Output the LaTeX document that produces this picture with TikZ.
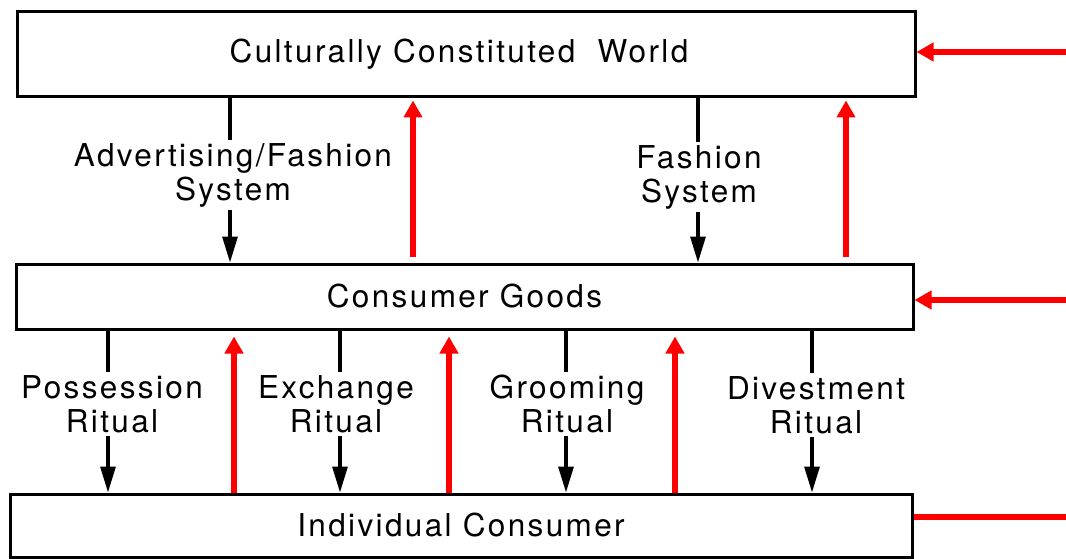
\documentclass[tikz,border=0pt]{standalone}
\usepackage{fontspec}
\setmainfont{TeX Gyre Heros}[LetterSpace=7.5]
\usetikzlibrary{arrows.meta}
\begin{document}
\begin{tikzpicture}[x=1pt,y=-1pt,
  box/.style={draw=black,line width=3pt,rectangle,inner sep=0pt,
    font=\fontsize{31.5}{34}\selectfont},
  lbl/.style={align=center,inner sep=3pt,font=\fontsize{31.5}{34}\selectfont},
  blk/.style={draw=black,line width=3.2pt},
  blkarrow/.style={blk,-{Triangle[length=26pt,width=15pt]}},
  redarrow/.style={draw=red,line width=5.5pt,-{Triangle[length=17pt,width=18pt]}},
  redline/.style={draw=red,line width=5.5pt}]
\useasboundingbox (0,0) rectangle (1066,559);
% boxes
\node[box,minimum width=898pt,minimum height=85pt] (cw) at (466,54.5) {\raisebox{-2pt}{Culturally Constituted\ \ World}\hspace*{14pt}};
\node[box,minimum width=897pt,minimum height=65pt] (cg) at (464.5,296.5) {Consumer Goods};
\node[box,minimum width=902pt,minimum height=63pt] (ic) at (461,525.5) {Individual Consumer};
% x positions
\coordinate (xa) at (230,0);
\coordinate (xb) at (698,0);
\coordinate (xr1) at (413,0);
\coordinate (xr2) at (846,0);
\coordinate (xp) at (108,0);
\coordinate (xe) at (340,0);
\coordinate (xg) at (566,0);
\coordinate (xd) at (812,0);
\coordinate (xq1) at (234,0);
\coordinate (xq2) at (449,0);
\coordinate (xq3) at (675,0);
% labels upper
\node[lbl] (la) at (233,175) {Advertising/Fashion\\System};
\node[lbl] (lb) at (699,177) {Fashion\\System};
% labels lower
\node[lbl] (lp) at (112,404) {Possession\\Ritual};
\node[lbl] (le) at (336,404) {Exchange\\Ritual};
\node[lbl] (lg) at (567,404) {Grooming\\Ritual};
\node[lbl] (ld) at (816,405) {Divestment\\Ritual};
% black connectors upper
\draw[blk] (cw.south -| xa) -- (la.north -| xa);
\draw[blkarrow] (la.south -| xa) -- (cg.north -| xa);
\draw[blk] (cw.south -| xb) -- (lb.north -| xb);
\draw[blkarrow] (lb.south -| xb) -- (cg.north -| xb);
% black connectors lower
\draw[blk] (cg.south -| xp) -- (lp.north -| xp);
\draw[blkarrow] (lp.south -| xp) -- (ic.north -| xp);
\draw[blk] (cg.south -| xe) -- (le.north -| xe);
\draw[blkarrow] (le.south -| xe) -- (ic.north -| xe);
\draw[blk] (cg.south -| xg) -- (lg.north -| xg);
\draw[blkarrow] (lg.south -| xg) -- (ic.north -| xg);
\draw[blk] (cg.south -| xd) -- (ld.north -| xd);
\draw[blkarrow] (ld.south -| xd) -- (ic.north -| xd);
% red upward arrows
\draw[redarrow,shorten <=6pt,shorten >=2pt] (cg.north -| xr1) -- (cw.south -| xr1);
\draw[redarrow,shorten <=6pt,shorten >=2pt] (cg.north -| xr2) -- (cw.south -| xr2);
\draw[redarrow,shorten >=6pt] (ic.north -| xq1) -- (cg.south -| xq1);
\draw[redarrow,shorten >=6pt] (ic.north -| xq2) -- (cg.south -| xq2);
\draw[redarrow,shorten >=6pt] (ic.north -| xq3) -- (cg.south -| xq3);
% red horizontal
\coordinate (r1) at (1066,52);
\coordinate (r2) at (1066,300);
\coordinate (r3) at (1066,517);
\draw[redarrow] (r1) -- (cw.east |- r1);
\draw[redarrow] (r2) -- (cg.east |- r2);
\draw[redline] (ic.east |- r3) -- (r3);
\end{tikzpicture}
\end{document}
